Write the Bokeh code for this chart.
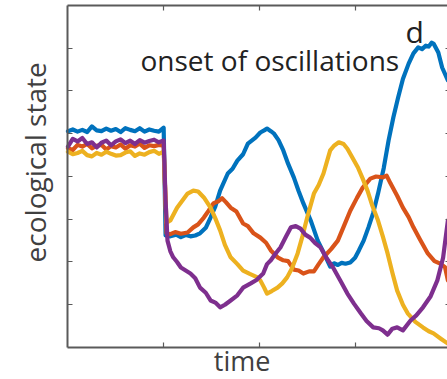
from bokeh.plotting import figure
from bokeh.models import Range1d, FixedTicker, LinearAxis, Label
from bokeh.embed import file_html
from bokeh.resources import INLINE
import math

# plateau (before the step at t = 1)
t_pre = [0.00, 0.05, 0.10, 0.15, 0.20, 0.25, 0.30, 0.35, 0.40, 0.45, 0.50,
         0.55, 0.60, 0.65, 0.70, 0.75, 0.80, 0.85, 0.90, 0.95, 1.00]
blue_pre = [5.06, 5.10, 5.05, 5.09, 5.04, 5.17, 5.08, 5.06, 5.12, 5.07, 5.11,
            5.04, 5.13, 5.09, 5.06, 5.13, 5.05, 5.10, 5.07, 5.05, 5.14]
orange_pre = [4.66, 4.62, 4.74, 4.70, 4.76, 4.66, 4.72, 4.74, 4.63, 4.71, 4.68,
              4.75, 4.65, 4.73, 4.70, 4.77, 4.67, 4.73, 4.71, 4.74, 4.72]
yellow_pre = [4.58, 4.52, 4.55, 4.60, 4.50, 4.47, 4.55, 4.51, 4.58, 4.53, 4.49,
              4.50, 4.56, 4.59, 4.48, 4.54, 4.51, 4.57, 4.60, 4.53, 4.58]
purple_pre = [4.70, 4.88, 4.82, 4.90, 4.76, 4.80, 4.68, 4.79, 4.84, 4.73, 4.82,
              4.87, 4.78, 4.84, 4.76, 4.85, 4.79, 4.83, 4.86, 4.80, 4.84]

# after the step
blue_t = [1.02, 1.07, 1.13, 1.18, 1.23, 1.28, 1.33, 1.38, 1.44, 1.49, 1.54, 1.59,
          1.67, 1.72, 1.77, 1.83, 1.88, 1.96, 2.01, 2.05, 2.08, 2.12, 2.15, 2.20,
          2.25, 2.30, 2.36, 2.41, 2.46, 2.54, 2.61, 2.68, 2.74, 2.78, 2.82, 2.86,
          2.90, 2.95, 3.00, 3.04, 3.09, 3.14, 3.19, 3.24, 3.30, 3.35, 3.40, 3.45,
          3.50, 3.56, 3.61, 3.66, 3.70, 3.74, 3.77, 3.80, 3.82, 3.87, 3.91, 3.97]
blue_y = [2.62, 2.60, 2.64, 2.58, 2.63, 2.60, 2.62, 2.67, 2.80, 3.04, 3.30, 3.67,
          4.07, 4.18, 4.37, 4.52, 4.77, 4.91, 5.03, 5.08, 5.12, 5.06, 5.01, 4.85,
          4.61, 4.30, 3.98, 3.66, 3.37, 2.95, 2.50, 2.18, 1.89, 1.97, 1.93, 1.98,
          1.96, 1.99, 2.10, 2.27, 2.50, 2.81, 3.15, 3.60, 4.20, 4.84, 5.38, 5.85,
          6.28, 6.64, 6.88, 7.02, 6.98, 7.06, 7.04, 7.13, 7.11, 6.90, 6.55, 6.25]

orange_t = [1.03, 1.07, 1.12, 1.18, 1.25, 1.31, 1.36, 1.42, 1.47, 1.52, 1.57, 1.61,
            1.65, 1.70, 1.76, 1.83, 1.88, 1.94, 2.01, 2.07, 2.12, 2.19, 2.25, 2.30,
            2.36, 2.41, 2.46, 2.52, 2.57, 2.62, 2.67, 2.75, 2.82, 2.88, 2.95, 3.02,
            3.08, 3.16, 3.22, 3.29, 3.33, 3.37, 3.44, 3.50, 3.56, 3.61, 3.68, 3.76,
            3.83, 3.89, 3.94, 3.97]
orange_y = [2.67, 2.65, 2.70, 2.66, 2.69, 2.81, 2.88, 3.04, 3.20, 3.37, 3.42, 3.49,
            3.40, 3.27, 3.18, 2.90, 2.84, 2.67, 2.57, 2.45, 2.27, 2.11, 2.04, 2.02,
            1.82, 1.80, 1.73, 1.78, 1.78, 1.95, 2.11, 2.30, 2.50, 2.82, 3.20, 3.50,
            3.74, 3.95, 4.00, 3.98, 4.02, 3.84, 3.55, 3.27, 3.05, 2.81, 2.52, 2.20,
            2.02, 1.96, 1.88, 1.57]

yellow_t = [1.03, 1.07, 1.14, 1.20, 1.25, 1.31, 1.36, 1.42, 1.49, 1.54, 1.59, 1.64,
            1.70, 1.77, 1.83, 1.90, 1.98, 2.01, 2.05, 2.08, 2.13, 2.19, 2.24, 2.29,
            2.34, 2.40, 2.45, 2.50, 2.57, 2.62, 2.67, 2.74, 2.78, 2.83, 2.88, 2.92,
            2.97, 3.03, 3.08, 3.13, 3.18, 3.24, 3.29, 3.34, 3.39, 3.44, 3.50, 3.55,
            3.63, 3.71, 3.77, 3.82, 3.90, 3.97]
yellow_y = [2.92, 2.97, 3.27, 3.45, 3.60, 3.67, 3.65, 3.51, 3.27, 3.02, 2.74, 2.40,
            2.11, 1.95, 1.80, 1.72, 1.64, 1.57, 1.40, 1.26, 1.32, 1.40, 1.50, 1.64,
            1.85, 2.20, 2.60, 3.04, 3.60, 3.80, 4.07, 4.61, 4.72, 4.80, 4.76, 4.65,
            4.45, 4.21, 3.95, 3.67, 3.32, 2.97, 2.60, 2.20, 1.75, 1.33, 1.00, 0.80,
            0.60, 0.47, 0.38, 0.33, 0.20, 0.09]

purple_t = [1.02, 1.04, 1.07, 1.10, 1.14, 1.18, 1.23, 1.28, 1.33, 1.38, 1.44, 1.49,
            1.54, 1.59, 1.64, 1.70, 1.77, 1.83, 1.91, 1.97, 2.04, 2.08, 2.12, 2.17,
            2.22, 2.28, 2.33, 2.38, 2.43, 2.48, 2.53, 2.58, 2.64, 2.70, 2.77, 2.85,
            2.92, 2.99, 3.06, 3.12, 3.19, 3.25, 3.29, 3.34, 3.39, 3.44, 3.50, 3.58,
            3.64, 3.71, 3.79, 3.86, 3.92, 3.97]
purple_y = [3.44, 2.50, 2.25, 2.11, 2.00, 1.87, 1.80, 1.73, 1.62, 1.40, 1.28, 1.10,
            1.05, 0.94, 1.00, 1.10, 1.22, 1.40, 1.50, 1.58, 1.73, 1.95, 2.04, 2.20,
            2.34, 2.60, 2.81, 2.84, 2.78, 2.64, 2.57, 2.45, 2.34, 2.10, 1.87, 1.55,
            1.26, 1.02, 0.80, 0.62, 0.47, 0.45, 0.40, 0.30, 0.44, 0.47, 0.40, 0.63,
            0.75, 0.94, 1.20, 1.57, 2.10, 2.97]

x_ticks = [1, 2, 3]
y_ticks = [1, 2, 3, 4, 5, 6, 7]
t_max, t_end, y_max = 4.0, 3.966, 8.0

colors = {"blue": "#0072BD", "orange": "#D95319", "yellow": "#EDB120", "purple": "#7E2F8E"}

# the frame covers the whole canvas; the axes box is pinned with fixed_location
p = figure(width=447, height=379, output_backend="svg", toolbar_location=None,
           x_range=Range1d(-0.705, t_end), y_range=Range1d(-0.749, 8.117),
           x_axis_location=None, y_axis_location=None,
           min_border_left=0, min_border_right=0, min_border_top=0, min_border_bottom=0)
p.outline_line_color = None
p.grid.visible = False
p.background_fill_color = "white"
p.border_fill_color = "white"

axis_col = "#5a5a5a"
font = "Open Sans"


def make_axis(ticks, loc, bounds, show_line=True):
    ax = LinearAxis(fixed_location=loc, bounds=bounds)
    ax.ticker = FixedTicker(ticks=ticks)
    ax.major_tick_in = 5
    ax.major_tick_out = 0
    ax.minor_tick_line_color = None
    ax.major_tick_line_color = axis_col
    ax.major_tick_line_width = 1.2
    ax.axis_line_color = axis_col if show_line else None
    ax.axis_line_width = 2
    ax.major_label_text_font_size = "0px"
    ax.major_label_text_alpha = 0
    ax.major_label_standoff = 0
    return ax


p.add_layout(make_axis(x_ticks, 0, (0, t_max)), "below")
p.add_layout(make_axis(x_ticks, y_max, (0, t_max)), "above")
p.add_layout(make_axis(y_ticks, 0, (0, y_max)), "left")
p.add_layout(make_axis(y_ticks, t_max, (0, y_max), show_line=False), "right")

series = [
    ("blue", blue_pre, blue_t, blue_y),
    ("orange", orange_pre, orange_t, orange_y),
    ("yellow", yellow_pre, yellow_t, yellow_y),
    ("purple", purple_pre, purple_t, purple_y),
]
for name, pre, tt, yy in series:
    p.line(t_pre + tt, pre + yy, line_color=colors[name], line_width=4.2,
           line_join="round", line_cap="round")

p.add_layout(Label(x=1.82, y=-0.30, text="time", text_font=font, text_font_size="27px",
                   text_color="#404040", text_align="center", text_baseline="alphabetic"))
p.add_layout(Label(x=-0.345, y=4.33, text="ecological state", text_font=font,
                   text_font_size="28px", text_color="#404040", text_align="center",
                   text_baseline="alphabetic", angle=math.pi / 2))
p.add_layout(Label(x=0.758, y=6.72, text="onset of oscillations", text_font=font,
                   text_font_size="28px", text_color="#222222", text_align="left",
                   text_baseline="alphabetic"))
p.add_layout(Label(x=3.527, y=7.40, text="d", text_font=font, text_font_size="30px",
                   text_color="#222222", text_align="left", text_baseline="alphabetic"))

open("out.html", "w").write(file_html(p, INLINE))
